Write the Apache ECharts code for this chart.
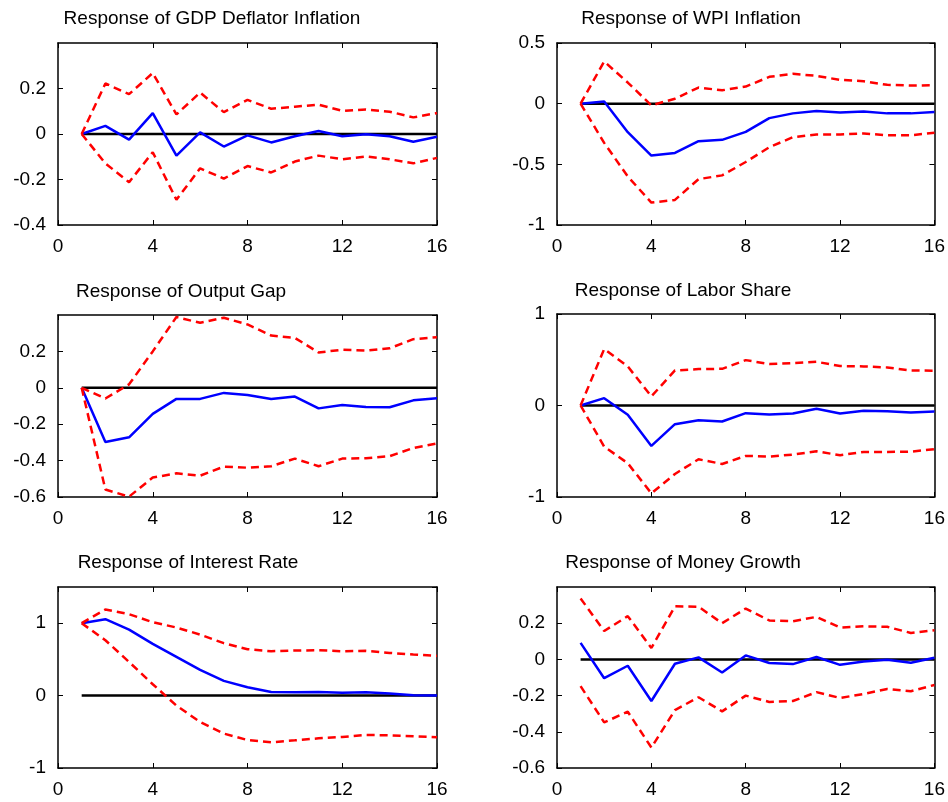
<!DOCTYPE html>
<html>
<head>
<meta charset="utf-8">
<script src="https://cdn.jsdelivr.net/npm/echarts@6/dist/echarts.min.js"></script>
<style>
html,body{margin:0;padding:0;background:#fff;}
#chart{width:948px;height:802px;}
</style>
</head>
<body>
<div id="chart"></div>
<script>
// ---- data ----
const periods = [1,2,3,4,5,6,7,8,9,10,11,12,13,14,15,16];
const titles = [
  "Response of GDP Deflator Inflation",
  "Response of WPI Inflation",
  "Response of Output Gap",
  "Response of Labor Share",
  "Response of Interest Rate",
  "Response of Money Growth"
];
const xTicks = [0, 16, 4]; // min, max, interval

const gdpIrf   = [0, 0.036, -0.025, 0.092, -0.095, 0.007, -0.055, -0.006, -0.037, -0.010, 0.013, -0.010, -0.001, -0.010, -0.034, -0.012];
const gdpUpper = [0, 0.222, 0.175, 0.268, 0.086, 0.182, 0.096, 0.150, 0.111, 0.120, 0.129, 0.102, 0.108, 0.098, 0.073, 0.092];
const gdpLower = [0, -0.129, -0.212, -0.080, -0.289, -0.151, -0.196, -0.141, -0.169, -0.121, -0.095, -0.111, -0.099, -0.111, -0.129, -0.105];
const gdpAxis  = [-0.4, 0.4, 0.2];

const wpiIrf   = [0, 0.017, -0.235, -0.428, -0.406, -0.309, -0.298, -0.232, -0.119, -0.080, -0.061, -0.072, -0.064, -0.080, -0.080, -0.069];
const wpiUpper = [0, 0.348, 0.174, -0.014, 0.041, 0.133, 0.110, 0.141, 0.221, 0.246, 0.229, 0.196, 0.185, 0.155, 0.149, 0.152];
const wpiLower = [0, -0.323, -0.600, -0.815, -0.793, -0.622, -0.591, -0.481, -0.359, -0.276, -0.254, -0.254, -0.246, -0.260, -0.260, -0.240];
const wpiAxis  = [-1, 0.5, 0.5];

const gapIrf   = [0, -0.298, -0.272, -0.143, -0.061, -0.061, -0.028, -0.039, -0.061, -0.048, -0.113, -0.094, -0.106, -0.107, -0.069, -0.057];
const gapUpper = [0, -0.059, 0.019, 0.200, 0.389, 0.357, 0.385, 0.348, 0.287, 0.274, 0.194, 0.209, 0.204, 0.217, 0.267, 0.278];
const gapLower = [0, -0.559, -0.598, -0.493, -0.470, -0.483, -0.433, -0.439, -0.431, -0.389, -0.431, -0.389, -0.387, -0.376, -0.331, -0.306];
const gapAxis  = [-0.6, 0.4, 0.2];

const labIrf   = [0, 0.080, -0.102, -0.442, -0.204, -0.161, -0.175, -0.084, -0.099, -0.088, -0.036, -0.088, -0.058, -0.062, -0.077, -0.066];
const labUpper = [0, 0.617, 0.427, 0.099, 0.383, 0.398, 0.401, 0.496, 0.453, 0.464, 0.478, 0.431, 0.427, 0.416, 0.383, 0.380];
const labLower = [0, -0.449, -0.631, -0.960, -0.748, -0.588, -0.639, -0.551, -0.558, -0.536, -0.500, -0.544, -0.507, -0.507, -0.504, -0.478];
const labAxis  = [-1, 1, 1];

const rateIrf   = [1.000, 1.055, 0.912, 0.714, 0.535, 0.355, 0.203, 0.115, 0.051, 0.046, 0.051, 0.041, 0.046, 0.028, 0.005, 0.000];
const rateUpper = [1.000, 1.189, 1.124, 1.014, 0.940, 0.843, 0.724, 0.641, 0.613, 0.622, 0.627, 0.613, 0.618, 0.590, 0.567, 0.548];
const rateLower = [1.000, 0.765, 0.465, 0.157, -0.138, -0.364, -0.525, -0.613, -0.645, -0.618, -0.590, -0.571, -0.544, -0.548, -0.562, -0.576];
const rateAxis  = [-1, 1.5, 1];

const monIrf   = [0.091, -0.104, -0.035, -0.230, -0.024, 0.011, -0.072, 0.022, -0.020, -0.026, 0.013, -0.030, -0.011, -0.002, -0.019, 0.009];
const monUpper = [0.337, 0.157, 0.239, 0.063, 0.293, 0.291, 0.200, 0.281, 0.215, 0.211, 0.235, 0.176, 0.183, 0.180, 0.146, 0.161];
const monLower = [-0.148, -0.348, -0.289, -0.487, -0.280, -0.209, -0.287, -0.200, -0.235, -0.230, -0.181, -0.213, -0.191, -0.163, -0.176, -0.141];
const monAxis  = [-0.6, 0.4, 0.2];

// ---- layout ----
const FONT = "'Liberation Sans', Arial, Helvetica, sans-serif";
const panels = [
  {irf: gdpIrf,  up: gdpUpper,  lo: gdpLower,  ax: gdpAxis,  g: {left: 58,  top: 43,  width: 379, height: 182}, t: [212, 9]},
  {irf: wpiIrf,  up: wpiUpper,  lo: wpiLower,  ax: wpiAxis,  g: {left: 557, top: 43,  width: 380, height: 182}, t: [691, 9]},
  {irf: gapIrf,  up: gapUpper,  lo: gapLower,  ax: gapAxis,  g: {left: 58,  top: 315, width: 379, height: 182}, t: [181, 282]},
  {irf: labIrf,  up: labUpper,  lo: labLower,  ax: labAxis,  g: {left: 557, top: 314, width: 380, height: 183}, t: [683, 281]},
  {irf: rateIrf, up: rateUpper, lo: rateLower, ax: rateAxis, g: {left: 58,  top: 587, width: 379, height: 181}, t: [188, 553]},
  {irf: monIrf,  up: monUpper,  lo: monLower,  ax: monAxis,  g: {left: 557, top: 587, width: 380, height: 181}, t: [683, 553]}
];

const option = {
  animation: false,
  backgroundColor: '#ffffff',
  textStyle: {fontFamily: FONT},
  title: [], grid: [], xAxis: [], yAxis: [], series: []
};

const lineStyleAxis = {show: true, onZero: false, lineStyle: {color: '#000', width: 1.5}};
const tickIn = {show: true, inside: true, length: 5, lineStyle: {color: '#000', width: 1}};

panels.forEach((p, i) => {
  option.title.push({
    text: titles[i], left: p.t[0], top: p.t[1], textAlign: 'center', padding: 0,
    textStyle: {fontFamily: FONT, fontSize: 19, fontWeight: 'normal', color: '#000'}
  });
  option.grid.push(Object.assign({containLabel: false}, p.g));
  const xBase = {gridIndex: i, type: 'value', min: xTicks[0], max: xTicks[1], interval: xTicks[2],
    axisLine: lineStyleAxis, axisTick: tickIn, splitLine: {show: false}};
  option.xAxis.push(Object.assign({}, xBase, {position: 'bottom',
    axisLabel: {show: true, color: '#000', fontSize: 19, fontFamily: FONT, margin: 12}}));
  option.xAxis.push(Object.assign({}, xBase, {position: 'top', axisLabel: {show: false}}));
  const yBase = {gridIndex: i, type: 'value', min: p.ax[0], max: p.ax[1], interval: p.ax[2],
    axisLine: lineStyleAxis, axisTick: tickIn, splitLine: {show: false}};
  const step = p.ax[2];
  option.yAxis.push(Object.assign({}, yBase, {position: 'left',
    axisLabel: {show: true, color: '#000', fontSize: 19, fontFamily: FONT, margin: 12,
      showMaxLabel: (i === 1 || i === 3),
      formatter: v => {
        const k = Math.round((v - p.ax[0]) / step);
        if (Math.abs(v - (p.ax[0] + k*step)) > 1e-9) return '';
        return String(parseFloat(v.toFixed(4)));
      }}}));
  option.yAxis.push(Object.assign({}, yBase, {position: 'right', axisLabel: {show: false}}));

  const xi = 2*i, yi = 2*i;
  const pts = arr => periods.map((t, k) => [t, arr[k]]);
  option.series.push({type: 'line', xAxisIndex: xi, yAxisIndex: yi, data: pts(periods.map(() => 0)),
    symbol: 'none', lineStyle: {color: '#000', width: 2.5}, z: 2, silent: true});
  option.series.push({type: 'line', xAxisIndex: xi, yAxisIndex: yi, data: pts(p.irf),
    symbol: 'none', lineStyle: {color: '#0000ff', width: 2.5}, z: 3, silent: true});
  option.series.push({type: 'line', xAxisIndex: xi, yAxisIndex: yi, data: pts(p.up),
    symbol: 'none', lineStyle: {color: '#ff0000', width: 2.5, type: [8, 5]}, z: 4, silent: true});
  option.series.push({type: 'line', xAxisIndex: xi, yAxisIndex: yi, data: pts(p.lo),
    symbol: 'none', lineStyle: {color: '#ff0000', width: 2.5, type: [8, 5]}, z: 4, silent: true});
});

const chart = echarts.init(document.getElementById('chart'), null, {renderer: 'canvas'});
chart.setOption(option);
</script>
</body>
</html>
